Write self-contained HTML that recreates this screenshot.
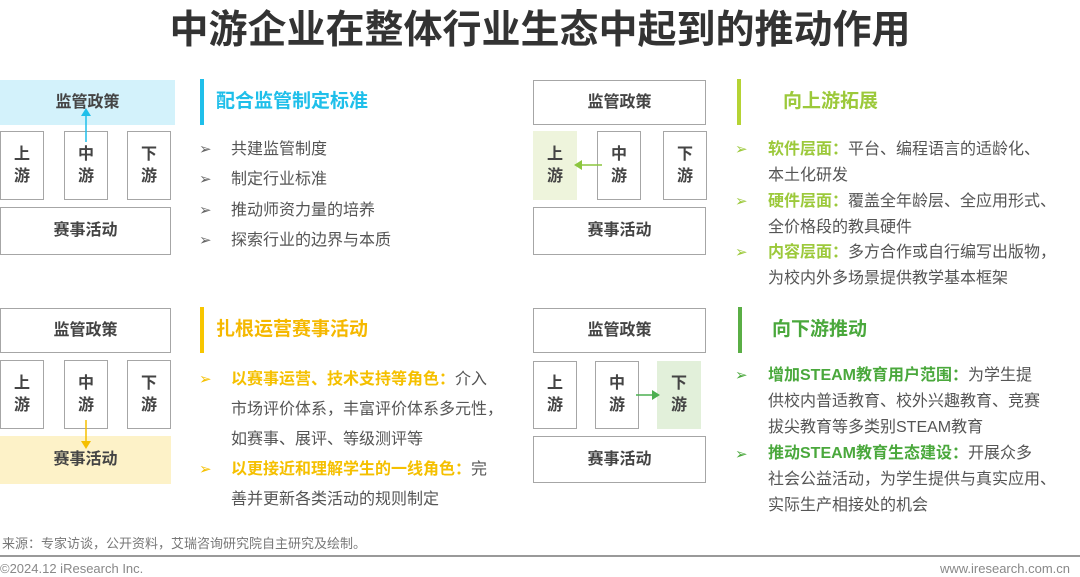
<!DOCTYPE html>
<html><head><meta charset="utf-8"><style>
*{margin:0;padding:0;box-sizing:border-box}
body{width:1080px;height:577px;background:#fff;position:relative;overflow:hidden;font-family:"Liberation Sans","Noto Sans CJK SC",sans-serif;color:#555}
.a{position:absolute}
.b{position:absolute;border:1.5px solid #a6a6a6;display:flex;align-items:center;justify-content:center;font-weight:bold;color:#444;font-size:16px;line-height:22px;text-align:center;background:#fff}
.v{width:44px}
.bar{position:absolute;width:4px;height:46px}
.t{position:absolute;font-size:19px;font-weight:bold;line-height:26px}
.tx{position:absolute;font-size:16px;line-height:26px;color:#555;white-space:nowrap}
.ar{position:absolute;font-size:15px}
</style></head><body>
<div class="a" style="left:0;top:7px;width:1080px;text-align:center;font-size:39px;font-weight:bold;color:#333;line-height:48px">中游企业在整体行业生态中起到的推动作用</div>

<!-- TL -->
<div class="b" style="left:0;top:80px;width:175px;height:45px;background:#d3f2fb;border-color:#d3f2fb">监管政策</div>
<div class="b v" style="left:0;top:131px;height:69px">上<br>游</div>
<div class="b v" style="left:64px;top:131px;height:69px">中<br>游</div>
<div class="b v" style="left:127px;top:131px;height:69px">下<br>游</div>
<div class="b" style="left:0;top:207px;width:171px;height:48px">赛事活动</div>
<svg class="a" style="left:80px;top:108px" width="16" height="34"><line x1="6" y1="34" x2="6" y2="6" stroke="#1fbfea" stroke-width="1.5"/><polygon points="6,0 1,8 11,8" fill="#1fbfea"/></svg>
<div class="bar" style="left:200px;top:79px;background:#1fbfea"></div>
<div class="t" style="left:216px;top:89px;color:#1fbfea">配合监管制定标准</div>
<div class="ar" style="left:199px;top:140px;color:#666">➢</div><div class="tx" style="left:231px;top:137px">共建监管制度</div>
<div class="ar" style="left:199px;top:170px;color:#666">➢</div><div class="tx" style="left:231px;top:167px">制定行业标准</div>
<div class="ar" style="left:199px;top:201px;color:#666">➢</div><div class="tx" style="left:231px;top:198px">推动师资力量的培养</div>
<div class="ar" style="left:199px;top:231px;color:#666">➢</div><div class="tx" style="left:231px;top:228px">探索行业的边界与本质</div>

<!-- TR -->
<div class="b" style="left:533px;top:80px;width:173px;height:45px">监管政策</div>
<div class="b v" style="left:533px;top:131px;height:69px;background:#eef4dc;border-color:#eef4dc">上<br>游</div>
<div class="b v" style="left:597px;top:131px;height:69px">中<br>游</div>
<div class="b v" style="left:663px;top:131px;height:69px">下<br>游</div>
<div class="b" style="left:533px;top:207px;width:173px;height:48px">赛事活动</div>
<svg class="a" style="left:574px;top:159px" width="28" height="12"><line x1="28" y1="6" x2="6" y2="6" stroke="#8cc63f" stroke-width="1.5"/><polygon points="0,6 8,1 8,11" fill="#8cc63f"/></svg>
<div class="bar" style="left:737px;top:79px;background:#b5d334"></div>
<div class="t" style="left:783px;top:89px;color:#9cc93b">向上游拓展</div>
<div class="ar" style="left:735px;top:140px;color:#9cc93b">➢</div>
<div class="tx" style="left:768px;top:137px"><b style="color:#9cc93b">软件层面：</b>平台、编程语言的适龄化、<br>本土化研发</div>
<div class="ar" style="left:735px;top:192px;color:#9cc93b">➢</div>
<div class="tx" style="left:768px;top:189px"><b style="color:#9cc93b">硬件层面：</b>覆盖全年龄层、全应用形式、<br>全价格段的教具硬件</div>
<div class="ar" style="left:735px;top:243px;color:#9cc93b">➢</div>
<div class="tx" style="left:768px;top:240px"><b style="color:#9cc93b">内容层面：</b>多方合作或自行编写出版物，<br>为校内外多场景提供教学基本框架</div>

<!-- BL -->
<div class="b" style="left:0;top:308px;width:171px;height:45px">监管政策</div>
<div class="b v" style="left:0;top:360px;height:69px">上<br>游</div>
<div class="b v" style="left:64px;top:360px;height:69px">中<br>游</div>
<div class="b v" style="left:127px;top:360px;height:69px">下<br>游</div>
<div class="b" style="left:0;top:436px;width:171px;height:48px;background:#fdf2c8;border-color:#fdf2c8">赛事活动</div>
<svg class="a" style="left:80px;top:420px" width="16" height="30"><line x1="6" y1="0" x2="6" y2="22" stroke="#f5bf00" stroke-width="1.5"/><polygon points="6,29 1,21 11,21" fill="#f5bf00"/></svg>
<div class="bar" style="left:200px;top:307px;background:#f7c600"></div>
<div class="t" style="left:216px;top:317px;color:#f5b800">扎根运营赛事活动</div>
<div class="ar" style="left:199px;top:370px;color:#f5c000">➢</div>
<div class="tx" style="left:231px;top:365px;line-height:30px"><b style="color:#f5c000">以赛事运营、技术支持等角色：</b>介入<br>市场评价体系，丰富评价体系多元性，<br>如赛事、展评、等级测评等</div>
<div class="ar" style="left:199px;top:460px;color:#f5c000">➢</div>
<div class="tx" style="left:231px;top:455px;line-height:30px"><b style="color:#f5c000">以更接近和理解学生的一线角色：</b>完<br>善并更新各类活动的规则制定</div>

<!-- BR -->
<div class="b" style="left:533px;top:308px;width:173px;height:45px">监管政策</div>
<div class="b v" style="left:533px;top:361px;height:68px">上<br>游</div>
<div class="b v" style="left:595px;top:361px;height:68px">中<br>游</div>
<div class="b v" style="left:657px;top:361px;height:68px;background:#e2f0da;border-color:#e2f0da">下<br>游</div>
<div class="b" style="left:533px;top:436px;width:173px;height:47px">赛事活动</div>
<svg class="a" style="left:636px;top:389px" width="24" height="12"><line x1="0" y1="6" x2="17" y2="6" stroke="#4caf50" stroke-width="1.5"/><polygon points="24,6 16,1 16,11" fill="#4caf50"/></svg>
<div class="bar" style="left:738px;top:307px;background:#5aae45"></div>
<div class="t" style="left:772px;top:317px;color:#4aa83c">向下游推动</div>
<div class="ar" style="left:735px;top:366px;color:#4aa83c">➢</div>
<div class="tx" style="left:768px;top:363px"><b style="color:#4aa83c">增加STEAM教育用户范围：</b>为学生提<br>供校内普适教育、校外兴趣教育、竞赛<br>拔尖教育等多类别STEAM教育</div>
<div class="ar" style="left:735px;top:445px;color:#4aa83c">➢</div>
<div class="tx" style="left:768px;top:441px"><b style="color:#4aa83c">推动STEAM教育生态建设：</b>开展众多<br>社会公益活动，为学生提供与真实应用、<br>实际生产相接处的机会</div>

<!-- footer -->
<div class="a" style="left:2px;top:533px;font-size:13px;color:#777">来源：专家访谈，公开资料，艾瑞咨询研究院自主研究及绘制。</div>
<div class="a" style="left:0;top:555px;width:1080px;height:2px;background:#999"></div>
<div class="a" style="left:0;top:561px;font-size:13px;color:#888">©2024.12 iResearch Inc.</div>
<div class="a" style="right:10px;top:561px;font-size:13px;color:#888">www.iresearch.com.cn</div>
</body></html>
